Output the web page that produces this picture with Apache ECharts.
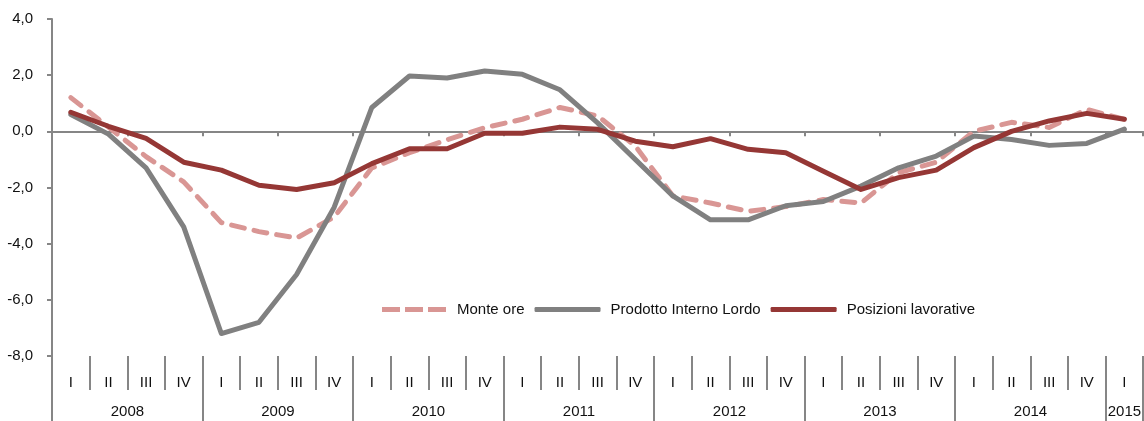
<!DOCTYPE html>
<html>
<head>
<meta charset="utf-8">
<script src="https://cdn.jsdelivr.net/npm/echarts@6/dist/echarts.min.js"></script>
<style>
  html, body { margin: 0; padding: 0; background: #fff; }
  #chart { width: 1144px; height: 421px; }
</style>
</head>
<body>
<div id="chart"></div>
<script>
// trimestri 2008 I - 2015 I
const years = ["2008", "2009", "2010", "2011", "2012", "2013", "2014", "2015"];
const quarterNames = ["I", "II", "III", "IV"];
const quarters = [];
years.forEach(function (y) {
  quarterNames.forEach(function (q) {
    if (y !== "2015" || q === "I") quarters.push(y + " " + q);
  });
});

const monteOre = [1.2, 0.15, -0.9, -1.8, -3.25, -3.57, -3.8, -3.05, -1.3, -0.76, -0.3, 0.13, 0.43, 0.85, 0.55, -0.52, -2.3, -2.55, -2.85, -2.68, -2.43, -2.55, -1.47, -1.1, 0.0, 0.32, 0.14, 0.78, 0.43];
const pil = [0.6, -0.1, -1.3, -3.4, -7.2, -6.8, -5.1, -2.7, 0.85, 1.97, 1.9, 2.15, 2.03, 1.48, 0.3, -1.0, -2.3, -3.15, -3.15, -2.65, -2.5, -1.95, -1.3, -0.88, -0.17, -0.29, -0.5, -0.43, 0.08];
const posizioni = [0.68, 0.18, -0.25, -1.1, -1.38, -1.92, -2.07, -1.83, -1.15, -0.62, -0.62, -0.07, -0.07, 0.15, 0.07, -0.35, -0.55, -0.26, -0.64, -0.76, -1.42, -2.07, -1.65, -1.38, -0.58, 0.0, 0.37, 0.64, 0.43];

const font = "Liberation Sans, Arial, sans-serif";
const fontSize = 15;
const textColor = "#111";
const axisGray = "#868686";

// icona tratteggiata per la legenda
const dashIcon = "path://M0,0h18v5h-18z M23,0h18v5h-18z M46,0h18v5h-18z";

let chartDom = document.getElementById("chart");
let myChart = echarts.init(chartDom);

let option = {
  animation: false,
  textStyle: { fontFamily: font },
  grid: { left: 52, right: -4, top: 19, bottom: 65 },
  legend: {
    left: 377,
    top: 297,
    itemWidth: 66,
    itemHeight: 5,
    itemGap: 10,
    textStyle: { fontFamily: font, fontSize: fontSize, color: textColor, padding: [0, 0, 0, 5] },
    data: [
      { name: "Monte ore", icon: dashIcon },
      { name: "Prodotto Interno Lordo", icon: "roundRect" },
      { name: "Posizioni lavorative", icon: "roundRect" }
    ]
  },
  xAxis: [
    {
      type: "category",
      data: quarters,
      axisLine: { onZero: true, lineStyle: { color: axisGray, width: 2 } },
      axisTick: { show: true, length: 5, lineStyle: { color: axisGray, width: 2 } },
      axisLabel: { show: false }
    },
    {
      type: "category",
      data: quarters,
      position: "bottom",
      axisLine: { show: false, onZero: false },
      axisTick: { show: true, length: 34, lineStyle: { color: axisGray, width: 2 } },
      axisLabel: {
        margin: 19,
        fontFamily: font,
        fontSize: fontSize,
        color: textColor,
        formatter: function (v) { return v.split(" ")[1]; }
      }
    },
    {
      type: "category",
      data: quarters,
      position: "bottom",
      axisLine: { show: false, onZero: false },
      axisTick: {
        show: true,
        length: 66,
        interval: function (i) { return i % 4 === 0; },
        lineStyle: { color: axisGray, width: 2 }
      },
      axisLabel: {
        margin: 48,
        fontFamily: font,
        fontSize: fontSize,
        color: textColor,
        interval: function (i) { return i % 4 === 1 || i === quarters.length - 1; },
        formatter: function (v, i) {
          let y = v.split(" ")[0];
          return i === quarters.length - 1 ? "{b|" + y + "}" : "{a|" + y + "}";
        },
        rich: {
          a: { fontFamily: font, fontSize: fontSize, color: textColor, padding: [0, 0, 0, 38] },
          b: { fontFamily: font, fontSize: fontSize, color: textColor }
        }
      }
    }
  ],
  yAxis: {
    type: "value",
    min: -8,
    max: 4,
    interval: 2,
    axisLine: { show: true, lineStyle: { color: axisGray, width: 2 } },
    axisTick: { show: true, length: 5, lineStyle: { color: axisGray, width: 2 } },
    splitLine: { show: false },
    axisLabel: {
      margin: 19,
      fontFamily: font,
      fontSize: fontSize,
      color: textColor,
      formatter: function (v) { return v.toFixed(1).replace(".", ","); }
    }
  },
  series: [
    {
      name: "Monte ore",
      type: "line",
      data: monteOre,
      symbol: "none",
      lineStyle: { color: "#d99694", width: 5, type: [13, 10], cap: "round", join: "round" },
      itemStyle: { color: "#d99694" }
    },
    {
      name: "Prodotto Interno Lordo",
      type: "line",
      data: pil,
      symbol: "none",
      lineStyle: { color: "#808080", width: 5, cap: "round", join: "round" },
      itemStyle: { color: "#808080" }
    },
    {
      name: "Posizioni lavorative",
      type: "line",
      data: posizioni,
      symbol: "none",
      lineStyle: { color: "#953735", width: 5, cap: "round", join: "round" },
      itemStyle: { color: "#953735" }
    }
  ]
};

myChart.setOption(option);
</script>
</body>
</html>
